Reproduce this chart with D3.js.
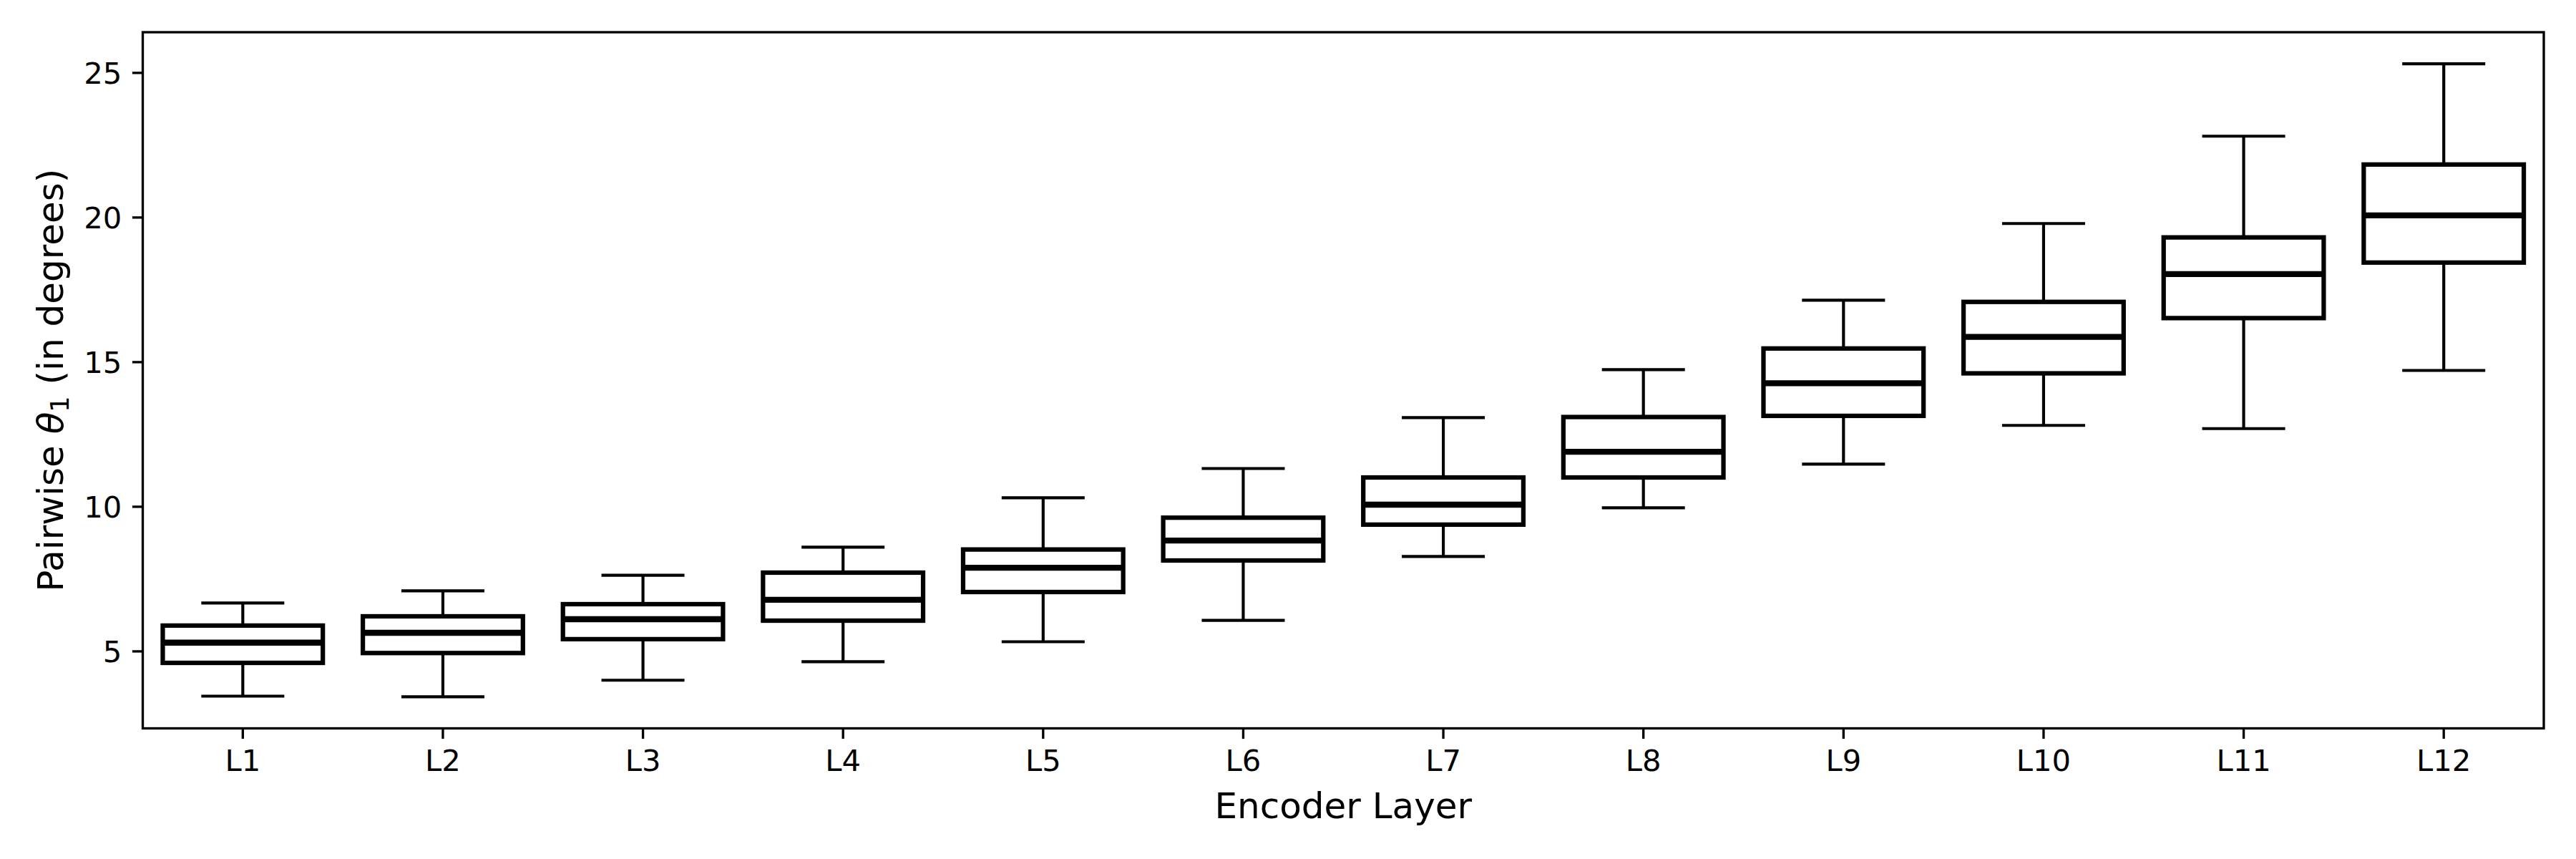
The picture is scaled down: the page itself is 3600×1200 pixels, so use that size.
<!DOCTYPE html>
<html>
<head>
<meta charset="utf-8">
<script src="https://cdn.jsdelivr.net/npm/d3@7"></script>
<style>
	body { margin: 0; background: #fff; }
	text { font-family: 'DejaVu Sans', sans-serif; fill: #000; }
</style>
</head>
<body>
<div id="chart"></div>
<script>
const layers      = ['L1', 'L2', 'L3', 'L4', 'L5', 'L6', 'L7', 'L8', 'L9', 'L10', 'L11', 'L12']
const whiskerLow  = [3.44, 3.42, 3.99, 4.63, 5.32, 6.06, 8.27, 9.95, 11.46, 12.80, 12.69, 14.70]
const q1          = [4.59, 4.93, 5.41, 6.05, 7.04, 8.13, 9.37, 11.00, 13.13, 14.60, 16.51, 18.43]
const median      = [5.29, 5.63, 6.10, 6.77, 7.88, 8.82, 10.06, 11.89, 14.26, 15.86, 18.03, 20.06]
const q3          = [5.88, 6.20, 6.62, 7.71, 8.51, 9.61, 11.00, 13.09, 15.46, 17.07, 19.30, 21.82]
const whiskerHigh = [6.66, 7.08, 7.62, 8.59, 10.30, 11.31, 13.07, 14.73, 17.13, 19.78, 22.80, 25.30]
const yTicks      = [5, 10, 15, 20, 25]

const w = 3600, h = 1200
const margin = {top: 45, right: 45, bottom: 182.5, left: 199.5}
const pw = w - margin.left - margin.right
const ph = h - margin.top - margin.bottom

const data = layers.map((label, i) => ({
	label,
	lo: whiskerLow[i], q1: q1[i], med: median[i], q3: q3[i], hi: whiskerHigh[i]
}))

const svg = d3.select('#chart').append('svg')
	.attr('width', w)
	.attr('height', h)

const g = svg.append('g')
	.attr('transform', `translate(${margin.left},${margin.top})`)

const x = d3.scaleBand()
	.domain(layers)
	.range([0, pw])
	.padding(0)

// matplotlib style 5% margin around the whisker range
const lo = d3.min(whiskerLow), hi = d3.max(whiskerHigh)
const pad = (hi - lo) * 0.05
const y = d3.scaleLinear()
	.domain([lo - pad, hi + pad])
	.range([ph, 0])

const lwAxis = 3.33, tickLen = 14.6, tickPad = 14.6
const boxW = x.bandwidth() * 0.8, capW = x.bandwidth() * 0.4

// Boxes

const boxes = g.append('g').attr('class', 'boxes')
	.selectAll('g')
	.data(data)
	.enter()
	.append('g')
	.attr('transform', d => `translate(${x(d.label) + x.bandwidth() / 2},0)`)

boxes.append('line')
	.attr('x1', 0).attr('x2', 0)
	.attr('y1', d => y(d.lo)).attr('y2', d => y(d.q1))
	.attr('stroke', '#000').attr('stroke-width', 4.17)

boxes.append('line')
	.attr('x1', 0).attr('x2', 0)
	.attr('y1', d => y(d.q3)).attr('y2', d => y(d.hi))
	.attr('stroke', '#000').attr('stroke-width', 4.17)

boxes.selectAll('line.cap')
	.data(d => [d.lo, d.hi])
	.enter()
	.append('line')
	.attr('class', 'cap')
	.attr('x1', -capW / 2).attr('x2', capW / 2)
	.attr('y1', v => y(v)).attr('y2', v => y(v))
	.attr('stroke', '#000').attr('stroke-width', 4.17)
	.attr('stroke-linecap', 'square')

boxes.append('rect')
	.attr('x', -boxW / 2)
	.attr('width', boxW)
	.attr('y', d => y(d.q3))
	.attr('height', d => y(d.q1) - y(d.q3))
	.attr('fill', '#fff')
	.attr('stroke', '#000')
	.attr('stroke-width', 6.25)

boxes.append('line')
	.attr('x1', -boxW / 2).attr('x2', boxW / 2)
	.attr('y1', d => y(d.med)).attr('y2', d => y(d.med))
	.attr('stroke', '#000').attr('stroke-width', 8.33)

// Axes

const xAxis = g.append('g')
	.attr('transform', `translate(0,${ph})`)
	.call(d3.axisBottom(x).tickSize(tickLen).tickPadding(tickPad))

const yAxis = g.append('g')
	.call(d3.axisLeft(y).tickValues(yTicks).tickFormat(d3.format('d')).tickSize(tickLen).tickPadding(tickPad))

;[xAxis, yAxis].forEach(a => {
	a.select('.domain').remove()
	a.selectAll('.tick line').attr('stroke', '#000').attr('stroke-width', lwAxis)
	a.selectAll('.tick text').attr('font-size', 41.7).attr('font-family', 'DejaVu Sans')
})
xAxis.selectAll('.tick text').attr('dy', null).attr('y', tickLen + tickPad + 30.3)
yAxis.selectAll('.tick text').attr('dy', null).attr('y', 15)

// Frame

g.append('rect')
	.attr('width', pw)
	.attr('height', ph)
	.attr('fill', 'none')
	.attr('stroke', '#000')
	.attr('stroke-width', lwAxis)

// Labels

svg.append('text')
	.attr('x', margin.left + pw / 2)
	.attr('y', 1142.5)
	.attr('text-anchor', 'middle')
	.attr('font-size', 50)
	.text('Encoder Layer')

const yl = svg.append('text')
	.attr('transform', `translate(88,${margin.top + ph / 2}) rotate(-90)`)
	.attr('text-anchor', 'middle')
	.attr('font-size', 50)

yl.append('tspan').text('Pairwise ')
yl.append('tspan').attr('font-style', 'italic').text('θ')
yl.append('tspan').attr('font-size', 35).attr('dy', 8).text('1')
yl.append('tspan').attr('dy', -8).text('\u00a0(in degrees)')
</script>
</body>
</html>
